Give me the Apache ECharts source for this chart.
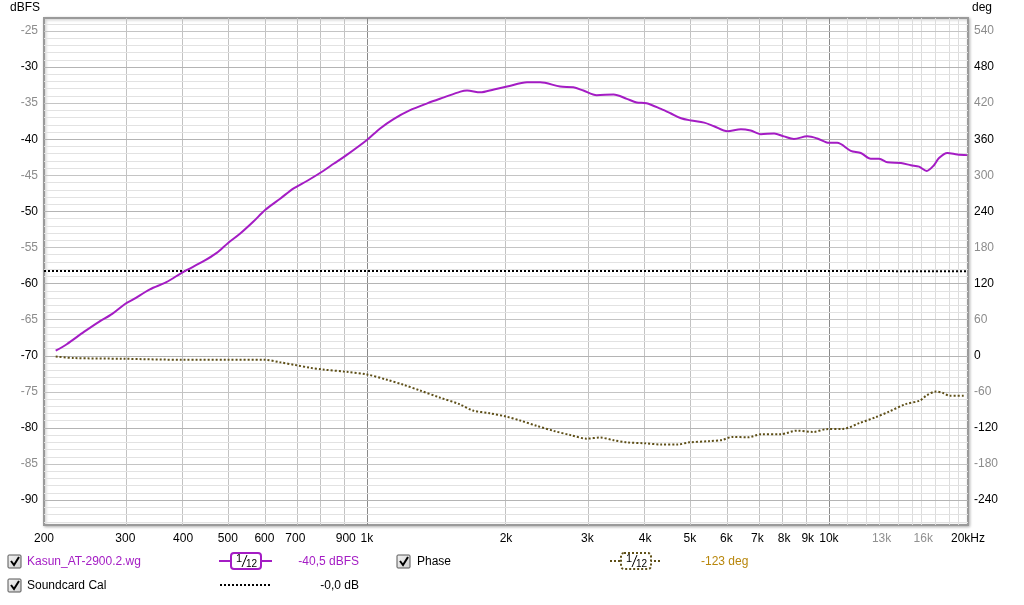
<!DOCTYPE html>
<html lang="en" style="height: 100%">
<head>
  <meta charset="utf-8">
  <title>Kasun_AT-2900.2</title>
</head>
<body style="height: 100%; margin: 0; background: #fff">
  <div id="container" style="width: 1024px; height: 605px"></div>

  <script type="text/javascript" src="https://cdn.jsdelivr.net/npm/echarts@6/dist/echarts.min.js"></script>
  <script type="text/javascript">
    // ---- data ----
    var magFreq = [212, 224, 244, 263, 281, 300, 312, 339, 368, 400, 443, 473, 500, 531, 568, 602, 650, 694, 743, 804, 847, 903,
      1000, 1068, 1142, 1237, 1354, 1468, 1594, 1647, 1760, 1883, 2011, 2221, 2372, 2619, 2797, 2941, 3143, 3418, 3652, 3837,
      4030, 4330, 4540, 4785, 5030, 5370, 5640, 6030, 6450, 6770, 7120, 7610, 7990, 8400, 8980, 9440, 10000, 10420, 11150,
      11720, 12320, 12840, 13390, 14320, 15050, 15670, 16280, 16880, 17310, 18040, 18960, 19920];
    var magDb = [-69.3, -68.4, -66.7, -65.3, -64.2, -62.8, -62.2, -60.8, -59.8, -58.4, -56.9, -55.75, -54.4, -53.1, -51.4, -49.8, -48.2, -46.8, -45.75, -44.4, -43.4, -42.2,
      -40.1, -38.5, -37.2, -36.0, -35.0, -34.2, -33.4, -33.25, -33.5, -33.1, -32.7, -32.1, -32.1, -32.7, -32.8, -33.25, -33.9, -33.8, -34.4, -34.9,
      -35.0, -35.8, -36.4, -37.1, -37.4, -37.7, -38.2, -38.9, -38.6, -38.8, -39.3, -39.2, -39.6, -39.95, -39.6, -39.9, -40.5, -40.5, -41.6,
      -41.9, -42.7, -42.7, -43.2, -43.3, -43.6, -43.8, -44.4, -43.6, -42.6, -41.9, -42.1, -42.2];

    var phaseFreq = [212, 232, 297, 400, 500, 600, 650, 700, 754, 801, 904, 1000, 1106, 1201, 1303, 1437, 1586, 1695, 1842, 2000,
      2150, 2334, 2540, 2760, 2990, 3195, 3420, 3650, 3990, 4330, 4700, 4990, 5500, 5870, 6170, 6690, 7130, 7860, 8530, 9250,
      9880, 10720, 11640, 12640, 13500, 14650, 15730, 16270, 17040, 17670, 18250, 19760];
    var phaseDeg = [-1.2, -3.8, -5, -6.7, -6.7, -6.7, -11, -15.5, -20, -22.8, -26.7, -31, -40, -48.3, -57.8, -69.4, -80.5, -91, -95.5, -101,
      -107.8, -116.7, -125, -132, -137.8, -136, -140.5, -144, -145.5, -147.5, -147.5, -144, -142, -140, -135, -135.5, -130.5, -130.5, -124.5, -126.7,
      -122, -121.7, -112, -102, -92.8, -80.5, -74.5, -66, -59.5, -62, -66.7, -66.7];

    var calFreq = [200, 1000, 10000, 20000];
    var calDb = [-58.25, -58.25, -58.25, -58.3];

    var xTickFreqs = [200, 300, 400, 500, 600, 700, 900, 1000, 2000, 3000, 4000, 5000, 6000, 7000, 8000, 9000, 10000, 13000, 16000, 20000];
    var xTickNames = ['200', '300', '400', '500', '600', '700', '900', '1k', '2k', '3k', '4k', '5k', '6k', '7k', '8k', '9k', '10k', '13k', '16k', '20kHz'];
    var dbTicks = [-25, -30, -35, -40, -45, -50, -55, -60, -65, -70, -75, -80, -85, -90];
    var degTicks = [540, 480, 420, 360, 300, 240, 180, 120, 60, 0, -60, -120, -180, -240];

    var FONT = 'Liberation Sans';
    var PURPLE = '#a41cc4';
    var OLIVE = '#5e4f17';

    function pairs(fs, vs) {
      return fs.map(function (f, i) { return [Math.log10(f), vs[i]]; });
    }

    // grid lines
    var gridLines = [];
    var f;
    for (f = 300; f < 1000; f += 100) gridLines.push({ xAxis: Math.log10(f), lineStyle: { color: '#c2c2c2', width: 1, type: 'solid' } });
    for (f = 2000; f < 10000; f += 1000) gridLines.push({ xAxis: Math.log10(f), lineStyle: { color: '#c2c2c2', width: 1, type: 'solid' } });
    for (f = 11000; f < 20000; f += 1000) gridLines.push({ xAxis: Math.log10(f), lineStyle: { color: '#dcdcdc', width: 1, type: 'solid' } });
    gridLines.push({ xAxis: 3, lineStyle: { color: '#8a8a8a', width: 1, type: 'solid' } });
    gridLines.push({ xAxis: 4, lineStyle: { color: '#8a8a8a', width: 1, type: 'solid' } });
    for (var d = -93; d <= -24; d++) {
      var c = d % 10 === 0 ? '#b4b4b4' : (d % 5 === 0 ? '#c4c4c4' : '#e2e2e2');
      gridLines.push({ yAxis: d, lineStyle: { color: c, width: 1, type: 'solid' } });
    }

    var dom = document.getElementById('container');
    var myChart = echarts.init(dom, null, { renderer: 'canvas' });

    function checkbox(x, y) {
      return [
        { type: 'rect', shape: { x: x, y: y, width: 13, height: 13, r: 1 },
          style: { fill: new echarts.graphic.LinearGradient(0, 0, 1, 1, [{ offset: 0, color: '#f4f4f4' }, { offset: 1, color: '#cfcfcf' }]), stroke: '#555', lineWidth: 1 } },
        { type: 'polyline', shape: { points: [[x + 3, y + 6], [x + 6, y + 10], [x + 11, y + 2]] },
          style: { stroke: '#000', lineWidth: 2, fill: null } }
      ];
    }
    function label(x, y, text, color, align) {
      return { type: 'text', x: x, y: y, style: { text: text, fill: color, font: '12px "' + FONT + '"', textAlign: align || 'left', textVerticalAlign: 'middle' } };
    }

    var graphics = [].concat(
      [label(10, 8, 'dBFS', '#000'), label(972, 8, 'deg', '#000')],
      checkbox(8, 555),
      [label(27, 562, 'Kasun_AT-2900.2.wg', PURPLE)],
      [
        { type: 'line', shape: { x1: 219, y1: 561, x2: 272, y2: 561 }, style: { stroke: PURPLE, lineWidth: 2 } },
        { type: 'rect', shape: { x: 231, y: 553, width: 30, height: 16, r: 3 }, style: { fill: '#fff', stroke: PURPLE, lineWidth: 2 } },
        { type: 'text', x: 236, y: 559, style: { text: '1', fill: '#000', font: '11px "' + FONT + '"', textVerticalAlign: 'middle' } },
        { type: 'line', shape: { x1: 242, y1: 567, x2: 247, y2: 555 }, style: { stroke: '#000', lineWidth: 1 } },
        { type: 'text', x: 246, y: 564, style: { text: '12', fill: '#000', font: '10px "' + FONT + '"', textVerticalAlign: 'middle' } }
      ],
      [label(359, 562, '-40,5 dBFS', PURPLE, 'right')],
      checkbox(397, 555),
      [label(417, 562, 'Phase', '#000')],
      [
        { type: 'line', shape: { x1: 610, y1: 561, x2: 662, y2: 561 }, style: { stroke: OLIVE, lineWidth: 2, lineDash: [2, 2] } },
        { type: 'rect', shape: { x: 621, y: 553, width: 30, height: 16, r: 3 }, style: { fill: '#fff', stroke: OLIVE, lineWidth: 2, lineDash: [2, 2] } },
        { type: 'text', x: 626, y: 559, style: { text: '1', fill: '#000', font: '11px "' + FONT + '"', textVerticalAlign: 'middle' } },
        { type: 'line', shape: { x1: 632, y1: 567, x2: 637, y2: 555 }, style: { stroke: '#000', lineWidth: 1 } },
        { type: 'text', x: 636, y: 564, style: { text: '12', fill: '#000', font: '10px "' + FONT + '"', textVerticalAlign: 'middle' } }
      ],
      [label(701, 562, '-123 deg', '#b8860b')],
      checkbox(8, 579),
      [label(27, 586, 'Soundcard Cal', '#000')],
      [{ type: 'line', shape: { x1: 220, y1: 585, x2: 270, y2: 585 }, style: { stroke: '#000', lineWidth: 2, lineDash: [2, 2] } }],
      [label(359, 586, '-0,0 dB', '#000', 'right')]
    );

    var option = {
      animation: false,
      backgroundColor: '#fff',
      textStyle: { fontFamily: FONT },
      grid: {
        left: 44, top: 18, right: 56, bottom: 80,
        show: true, backgroundColor: '#fff',
        borderColor: '#9a9a9a', borderWidth: 2,
        shadowColor: 'rgba(0,0,0,0.25)', shadowBlur: 3, shadowOffsetX: 1, shadowOffsetY: 1,
        containLabel: false, outerBoundsMode: 'none'
      },
      xAxis: {
        type: 'value',
        min: Math.log10(200), max: Math.log10(20000),
        axisLine: { show: false }, axisTick: { show: false }, splitLine: { show: false },
        axisLabel: {
          customValues: xTickFreqs.map(function (v) { return Math.log10(v); }),
          margin: 8, fontSize: 12, fontFamily: FONT,
          formatter: function (v) {
            var fr = Math.round(Math.pow(10, v));
            var i = xTickFreqs.indexOf(fr);
            return i >= 0 ? xTickNames[i] : '';
          },
          color: function (v) {
            var fr = Math.round(Math.pow(10, Number(v)));
            return (fr === 13000 || fr === 16000) ? '#909090' : '#000';
          }
        }
      },
      yAxis: [
        {
          type: 'value', position: 'left',
          min: -93.45, max: -23.2,
          axisLine: { show: false }, axisTick: { show: false }, splitLine: { show: false },
          axisLabel: {
            customValues: dbTicks, margin: 6, fontSize: 12, fontFamily: FONT,
            color: function (v) { return Number(v) % 10 === 0 ? '#000' : '#8c8c8c'; }
          }
        },
        {
          type: 'value', position: 'right',
          min: (-93.45 + 70) * 12, max: (-23.2 + 70) * 12,
          axisLine: { show: false }, axisTick: { show: false }, splitLine: { show: false },
          axisLabel: {
            customValues: degTicks, margin: 6, fontSize: 12, fontFamily: FONT,
            color: function (v) { return Number(v) % 120 === 0 ? '#000' : '#8c8c8c'; }
          }
        }
      ],
      series: [
        {
          type: 'line', name: 'grid', z: 1, silent: true,
          data: [[Math.log10(200), -93]], showSymbol: false, lineStyle: { opacity: 0 },
          markLine: { silent: true, z: 1, symbol: ['none', 'none'], label: { show: false }, animation: false, data: gridLines }
        },
        {
          type: 'line', name: 'Soundcard Cal', z: 10, yAxisIndex: 0,
          data: pairs(calFreq, calDb), showSymbol: false,
          lineStyle: { color: '#000', width: 2, type: [2, 2] }
        },
        {
          type: 'line', name: 'Phase', z: 10, yAxisIndex: 1,
          data: pairs(phaseFreq, phaseDeg), showSymbol: false, smooth: 0.3,
          lineStyle: { color: OLIVE, width: 2, type: [2, 2] }
        },
        {
          type: 'line', name: 'Kasun_AT-2900.2.wg', z: 11, yAxisIndex: 0,
          data: pairs(magFreq, magDb), showSymbol: false, smooth: 0.3,
          lineStyle: { color: PURPLE, width: 2 }
        }
      ],
      graphic: graphics
    };

    myChart.setOption(option);
    window.addEventListener('resize', myChart.resize);
  </script>
</body>
</html>
